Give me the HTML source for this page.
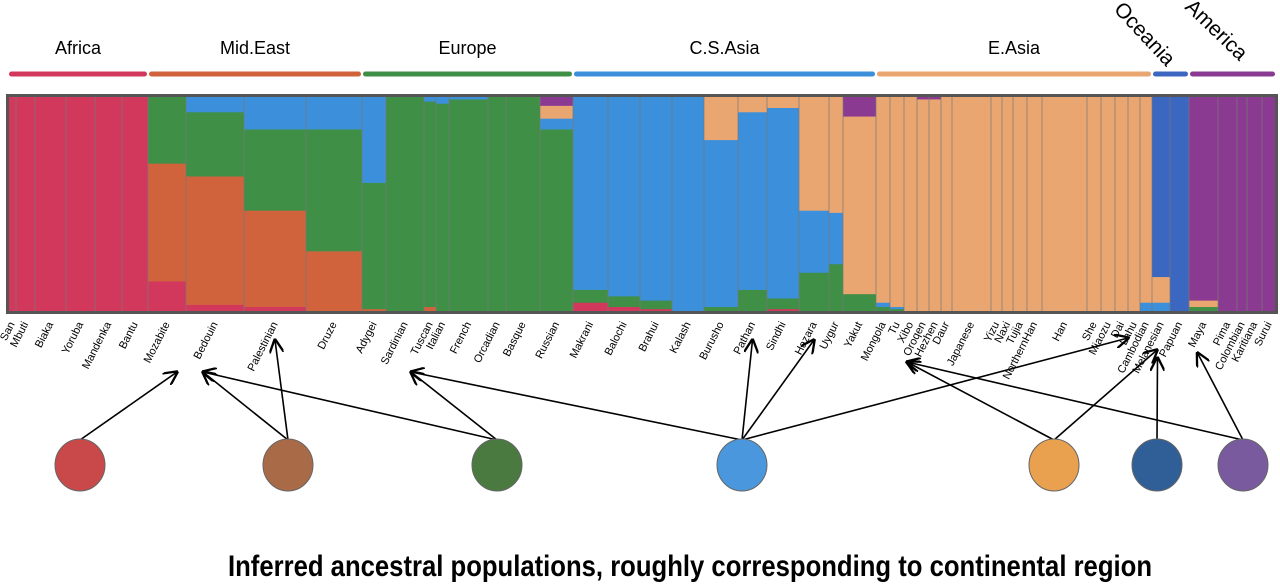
<!DOCTYPE html>
<html><head><meta charset="utf-8"><style>
html,body{margin:0;padding:0;background:#fff;}
svg{display:block;font-family:"Liberation Sans",sans-serif;}
</style></head><body>
<svg id="chart" width="1280" height="585" viewBox="0 0 1280 585" xmlns="http://www.w3.org/2000/svg">
<defs><marker id="ah" viewBox="0 0 10 10" refX="9" refY="5" markerWidth="9" markerHeight="9" orient="auto"><path d="M0,0 L10,5 L0,10" fill="none" stroke="#000" stroke-width="1.6"/></marker></defs>
<g id="regions"></g>
<g id="bars"></g>
<rect x="7.5" y="95.5" width="1269" height="217" fill="none" stroke="#555" stroke-width="3"/>
<g id="labels"></g>
<g id="arrows"></g>
<g id="circles"></g>
<text x="690" y="576" text-anchor="middle" font-family="'Liberation Sans Narrow','Liberation Sans',sans-serif" font-weight="bold" font-size="30" textLength="924" lengthAdjust="spacingAndGlyphs">Inferred ancestral populations, roughly corresponding to continental region</text>
</svg>
<script>
const popNames=["San","Mbuti","Biaka","Yoruba","Mandenka","Bantu","Mozabite","Bedouin","Palestinian","Druze","Adygei","Sardinian","Tuscan","Italian","French","Orcadian","Basque","Russian","Makrani","Balochi","Brahui","Kalash","Burusho","Pathan","Sindhi","Hazara","Uygur","Yakut","Mongola","Tu","Xibo","Oroqen","Hezhen","Daur","Japanese","Yizu","Naxi","Tujia","NorthernHan","Han","She","Miaozu","Dai","Lahu","Cambodian","Melanesian","Papuan","Maya","Pima","Colombian","Karitiana","Surui"];
const popSizes=[8,19,31,29,27,26,38,58,62,56,24,38,12,13,39,18,34,33,35,32,32,32,34,29,32,30,14,33,14,14,13,12,12,11,39,11,11,14,15,45,14,14,13,12,12,18,19,29,19,10,15,14];
// ancestry fractions (%): [africa, mideast, europe, csasia, easia, oceania, america]
const popAncestry=[
[100,0,0,0,0,0,0],[100,0,0,0,0,0,0],[100,0,0,0,0,0,0],[100,0,0,0,0,0,0],[100,0,0,0,0,0,0],[100,0,0,0,0,0,0],
[14,55,31,0,0,0,0],[3,60,30,7,0,0,0],[2,45,38,15,0,0,0],[0,28,57,15,0,0,0],
[0,1,59,40,0,0,0],[0,0,100,0,0,0,0],[0,2,96,2,0,0,0],[0,0,97,3,0,0,0],[0,0,99,1,0,0,0],[0,0,100,0,0,0,0],[0,0,100,0,0,0,0],[0,0,85,5,6,0,4],
[4,0,6,90,0,0,0],[2,0,5,93,0,0,0],[1,0,4,95,0,0,0],[0,0,0,100,0,0,0],[0,0,2,78,20,0,0],[0,0,10,83,7,0,0],[1,0,5,89,5,0,0],[0,0,18,29,53,0,0],[0,0,22,24,54,0,0],[0,0,8,0,83,0,9],
[0,0,2,2,96,0,0],[0,0,1,1,98,0,0],[0,0,0,0,100,0,0],[0,0,0,0,99,0,1],[0,0,0,0,99,0,1],[0,0,0,0,100,0,0],[0,0,0,0,100,0,0],[0,0,0,0,100,0,0],[0,0,0,0,100,0,0],[0,0,0,0,100,0,0],[0,0,0,0,100,0,0],[0,0,0,0,100,0,0],[0,0,0,0,100,0,0],[0,0,0,0,100,0,0],[0,0,0,0,100,0,0],[0,0,0,0,100,0,0],[0,0,0,4,96,0,0],
[0,0,0,4,12,84,0],[0,0,0,0,0,100,0],
[0,0,2,0,3,0,95],[0,0,0,0,0,0,100],[0,0,0,0,0,0,100],[0,0,0,0,0,0,100],[0,0,0,0,0,0,100]];
const regionNames=["Africa","Mid.East","Europe","C.S.Asia","E.Asia","Oceania","America"];
const regionPopCounts=[6,4,8,10,17,2,5];
const compColors=["#d2385c","#d0623c","#3f8f46","#3b8fdb","#e9a670","#3b67c0","#8b3a92"];
const circleColors=["#c9484a","#a86a47","#4a7a3f","#4a97dd","#e9a04f","#2f5f96","#7a5a9e"];
const circleX=[80,288,497,742,1054,1157,1243];
// arrows: [source circle index, target population index]
const arrowLinks=[[0,6],[1,7],[1,8],[2,7],[2,11],[3,11],[3,23],[3,25],[3,43],[4,31],[4,45],[5,46],[6,31],[6,47]];

const NS="http://www.w3.org/2000/svg";
const X0=8,X1=1276,Y0=97,Y1=311;
const total=popSizes.reduce((a,b)=>a+b,0);
const xs=i=>X0+(X1-X0)*popSizes.slice(0,i).reduce((a,b)=>a+b,0)/total;
const ys=p=>Y1-(Y1-Y0)*p/100;
function mk(t,a,parent){const e=document.createElementNS(NS,t);for(const k in a)e.setAttribute(k,a[k]);parent.appendChild(e);return e;}
const bars=document.getElementById('bars');
popNames.forEach((n,i)=>{
  const x=xs(i),w=xs(i+1)-x;let acc=0;
  popAncestry[i].forEach((v,c)=>{
    if(v<=0)return;
    const r=mk('rect',{x:x,y:ys(acc+v),width:w+0.3,height:ys(acc)-ys(acc+v)+0.3,fill:compColors[c]},bars);
    
    
    acc+=v;
  });
  if(i>0){const l=mk('line',{x1:x,x2:x,y1:Y0,y2:Y1,stroke:'#777','stroke-width':1,'stroke-opacity':0.7},bars);
    
    }
});
const labels=document.getElementById('labels');
popNames.forEach((n,i)=>{
  const cx=(xs(i)+xs(i+1))/2+3;
  const t=mk('text',{x:cx,y:324,'text-anchor':'end','font-size':11,transform:`rotate(-63 ${cx} 324)`},labels);
  t.textContent=n;
  
  
});
const regs=document.getElementById('regions');
const rotLabelPos={5:[1113,10,47],6:[1184,8,44]};
let pi=0;
regionNames.forEach((n,r)=>{
  const a=xs(pi),b=xs(pi+regionPopCounts[r]);pi+=regionPopCounts[r];
  const bar=mk('rect',{x:a+1,y:71.5,width:b-a-2,height:5,rx:2.5,fill:compColors[r]},regs);
  
  
  const cx=(a+b)/2;
  let t;
  if(r<5){t=mk('text',{x:cx,y:54,'text-anchor':'middle','font-size':18},regs);}
  else{const [px,py,ang]=rotLabelPos[r];t=mk('text',{x:px,y:py,'font-size':21,transform:`rotate(${ang} ${px} ${py})`},regs);}
  t.textContent=n;
  
  
});
const arr=document.getElementById('arrows');
arrowLinks.forEach(([c,p])=>{
  const tx=(xs(p)+xs(p+1))/2+ (p==6?10:p==7?-12:p==11?6:p==31?-16:p==43?-6:p==45?-4:p==46?-22:p==47?-6:0);
  const ty=[23,8].includes(p)?340:[25].includes(p)?340:[46].includes(p)?358:[43].includes(p)?338:[45].includes(p)?350:[47].includes(p)?353:[31].includes(p)?362:372;
  const l=mk('line',{x1:circleX[c],y1:440,x2:tx,y2:ty,stroke:'#000','stroke-width':1.6,'marker-end':'url(#ah)'},arr);
  
  
});
const circ=document.getElementById('circles');
circleX.forEach((x,i)=>{
  const e=mk('ellipse',{cx:x,cy:465,rx:25,ry:26,fill:circleColors[i],stroke:'#666','stroke-width':1},circ);
  
  
});
</script>
</body></html>
